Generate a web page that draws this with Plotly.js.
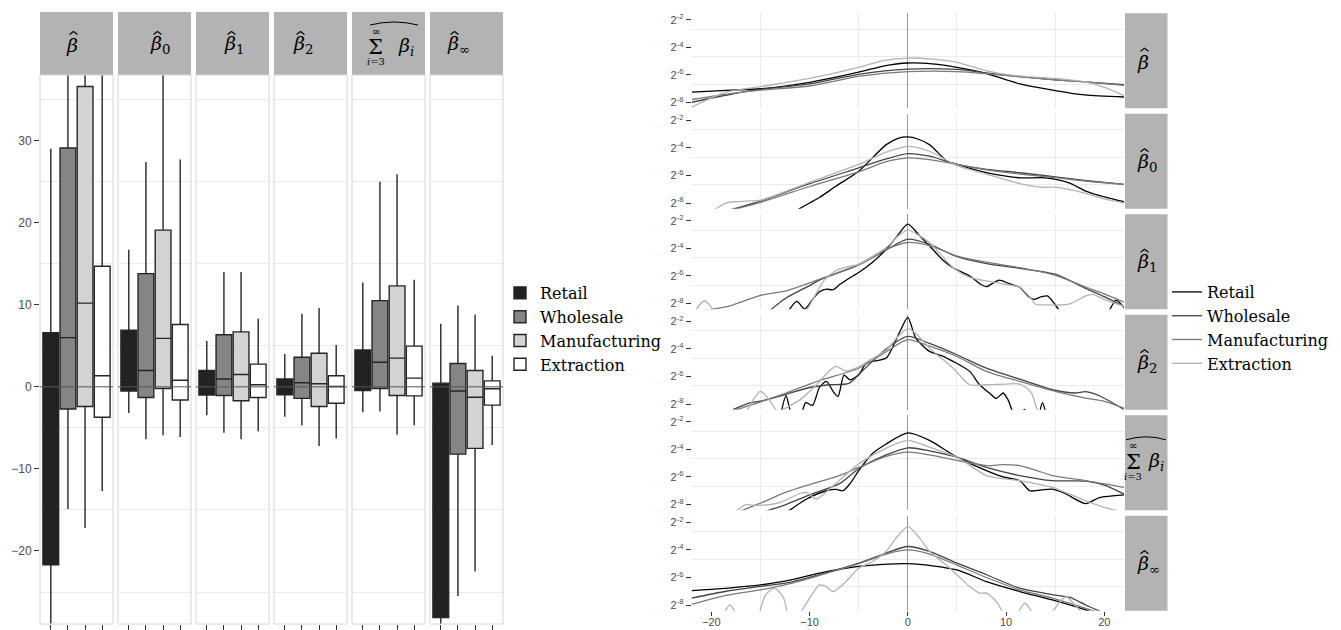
<!DOCTYPE html>
<html><head><meta charset="utf-8">
<script src="https://cdn.plot.ly/plotly-3.0.1.min.js"></script>
<style>html,body{margin:0;padding:0;background:#fff}#chart{width:1341px;height:630px}</style>
</head><body><div id="chart"></div>
<script>
// ================= DATA =================
const groups = ['Retail', 'Wholesale', 'Manufacturing', 'Extraction'];
// facet strip subscripts for beta-hat; null marks the summed term
const facetSubs = ['', '0', '1', '2', null, '∞'];

// Box statistics per facet: [β̂, β̂0, β̂1, β̂2, Σβi, β̂∞]
const retailLo  = [-40, -3.2, -3.45, -3.65, -3.1, -40];
const retailQ1  = [-21.7, -0.5, -1.0, -0.97, -0.45, -28.1];
const retailMed = [-1.0, 0.8, 0.15, 0.05, 0.85, -3.45];
const retailQ3  = [6.6, 6.9, 2.0, 0.95, 4.5, 0.45];
const retailHi  = [29.0, 16.7, 5.6, 4.0, 12.7, 7.7];

const wholesaleLo  = [-14.9, -6.4, -5.6, -4.7, -3.0, -25.5];
const wholesaleQ1  = [-2.7, -1.3, -1.05, -1.4, -0.2, -8.2];
const wholesaleMed = [6.0, 2.0, 0.95, 0.5, 3.0, -0.5];
const wholesaleQ3  = [29.1, 13.8, 6.35, 3.6, 10.5, 2.85];
const wholesaleHi  = [50, 27.4, 14.0, 8.9, 25.0, 9.9];

const manufLo  = [-17.2, -5.9, -6.4, -7.2, -5.85, -22.5];
const manufQ1  = [-2.4, -0.2, -1.7, -2.4, -1.05, -7.5];
const manufMed = [10.2, 5.9, 1.5, 0.37, 3.5, -1.26];
const manufQ3  = [36.6, 19.1, 6.7, 4.1, 12.3, 2.0];
const manufHi  = [60, 45, 14.0, 9.6, 25.9, 8.8];

const extrLo  = [-12.7, -6.1, -5.4, -6.3, -4.67, -7.1];
const extrQ1  = [-3.7, -1.6, -1.3, -2.0, -1.1, -2.23];
const extrMed = [1.35, 0.8, 0.25, 0.05, 1.06, -0.24];
const extrQ3  = [14.7, 7.6, 2.77, 1.35, 4.96, 0.73];
const extrHi  = [45, 27.7, 8.3, 5.1, 13.05, 3.8];

// Density curves: [x, log2(density)]
const dB_Retail = [[-22,-7.25],[-18,-7.1],[-15,-7.0],[-10,-6.53],[-5,-5.8],[-2.5,-5.35],[0,-5.13],[2.5,-5.2],[5,-5.45],[8,-5.9],[11.4,-6.65],[15,-7.13],[18,-7.45],[22,-7.6]];
const dB_Wholesale = [[-22,-7.98],[-18,-7.4],[-15,-7.05],[-10,-6.65],[-5,-5.95],[0,-5.57],[5,-5.6],[8,-5.85],[11,-6.1],[15,-6.35],[18,-6.5],[22,-6.7]];
const dB_Manufacturing = [[-22,-7.78],[-18,-7.35],[-15,-7.1],[-10,-6.8],[-5,-6.1],[0,-5.76],[5,-5.75],[8,-5.9],[11,-6.1],[15,-6.35],[18,-6.5],[22,-6.75]];
const dB_Extraction = [[-22,-8.34],[-18.5,-7.25],[-15,-6.85],[-10,-6.25],[-5,-5.45],[-2.5,-4.95],[0,-4.77],[2.5,-4.85],[5,-5.08],[8,-5.7],[11,-6.05],[15,-6.25],[18,-6.5],[20,-6.9],[22,-7.5]];

const dB0_Retail = [[-11.5,-8.6],[-10.5,-8.2],[-9,-7.6],[-7.3,-6.77],[-5,-5.69],[-3.6,-4.72],[-2.2,-3.76],[-1,-3.3],[0,-3.2],[1,-3.35],[2.2,-3.76],[4,-4.96],[5,-5.2],[8,-5.8],[11.4,-6.17],[14,-6.17],[16.4,-6.53],[18.1,-7.13],[20,-7.55],[22,-7.9]];
const dB0_Wholesale = [[-18.1,-8.5],[-15,-7.86],[-10,-6.6],[-5,-5.45],[-2.2,-4.8],[0,-4.41],[2.2,-4.6],[5,-5.2],[8,-5.55],[11.4,-5.8],[15,-6.1],[18,-6.35],[22,-6.65]];
const dB0_Manufacturing = [[-18.1,-8.55],[-15,-7.95],[-10,-6.8],[-5,-5.73],[-2.2,-5.0],[0,-4.72],[2.2,-4.85],[5,-5.2],[8,-5.6],[11.4,-5.9],[15,-6.15],[18,-6.4],[22,-6.65]];
const dB0_Extraction = [[-19.7,-8.5],[-18.5,-8.0],[-17.5,-7.9],[-16,-7.85],[-15,-7.8],[-10,-6.5],[-5,-5.2],[-2.2,-4.3],[0,-3.88],[2.2,-4.24],[5,-5.28],[8,-5.9],[11.4,-6.6],[13.5,-6.85],[15,-6.85],[18.1,-7.3],[20,-7.7],[22,-8.0]];

const dB1_Retail = [[-12.3,-8.7],[-11.3,-7.85],[-10.5,-8.4],[-9.7,-7.7],[-9.0,-7.15],[-8.3,-6.96],[-7.6,-7.0],[-6.9,-6.6],[-5.6,-6.0],[-5,-5.75],[-3.6,-5.0],[-2.2,-4.06],[-1.1,-3.1],[0,-2.24],[1.1,-3.0],[2.2,-3.8],[3.5,-4.8],[4.6,-5.4],[6.3,-6.0],[7.4,-6.6],[8,-6.77],[8.7,-6.5],[9.3,-6.3],[10.3,-6.55],[11.4,-6.84],[12.3,-7.5],[12.8,-7.7],[13.6,-7.5],[14.2,-7.45],[14.9,-8.0],[15.7,-8.8],[17,-10],[19.5,-10],[20.3,-8.8],[21.2,-7.75],[22,-8.3]];
const dB1_Wholesale = [[-14.2,-8.6],[-12.4,-7.6],[-10,-6.7],[-9,-6.3],[-5,-5.2],[-2.2,-4.1],[0,-3.33],[2.2,-3.7],[5,-4.6],[8,-5.1],[11.4,-5.45],[15,-5.87],[18.1,-6.9],[20,-7.5],[22,-8.2]];
const dB1_Manufacturing = [[-21.5,-8.6],[-18.1,-8.17],[-15,-7.4],[-12.4,-7.08],[-9,-6.24],[-5,-5.15],[-2.2,-4.06],[0,-3.57],[2.2,-3.8],[5,-4.55],[8,-5.0],[11.4,-5.4],[15,-5.95],[18.1,-6.8],[20,-7.3],[22,-7.9]];
const dB1_Extraction = [[-21.8,-8.7],[-20.7,-7.8],[-19.6,-8.7],[-19,-10],[-12,-10],[-10.4,-8.6],[-9.5,-7.5],[-8.5,-6.3],[-7.3,-5.6],[-6,-5.3],[-5,-5.15],[-2.2,-3.94],[-1,-3.1],[0,-2.65],[1,-3.0],[2.2,-3.57],[4.6,-5.4],[6.3,-6.1],[8,-6.36],[9.5,-6.55],[11.4,-6.84],[12.5,-7.6],[13,-8.05],[14,-8.1],[16.4,-8.05],[18.1,-7.45],[18.8,-7.33],[20,-7.7],[22,-8.2]];

const dB2_Retail = [[-13,-9],[-12.4,-7.4],[-11.8,-8.8],[-11,-9],[-10.4,-7.9],[-9.7,-8.1],[-9,-6.8],[-8.3,-6.36],[-7.5,-7.2],[-7.1,-7.45],[-6.5,-5.9],[-5.9,-6.24],[-5,-5.87],[-4.2,-5.0],[-3.6,-4.9],[-2.2,-4.66],[-1.5,-3.8],[-0.8,-2.73],[0,-1.7],[0.8,-3.2],[2.2,-4.18],[3.5,-4.5],[4.6,-4.9],[6.3,-5.63],[7.3,-6.6],[8.3,-7.2],[9,-7.6],[9.7,-7.2],[10.2,-7.7],[11,-9],[11.9,-8.4],[12.4,-9],[13.2,-9],[13.7,-7.9],[14.2,-9],[15,-10]];
const dB2_Wholesale = [[-17.8,-8.4],[-16,-7.9],[-15,-7.8],[-12.4,-7.3],[-10,-6.8],[-8,-6.6],[-6,-6.5],[-4.5,-5.5],[-2.2,-4.0],[0,-3.09],[2.2,-3.6],[5,-4.42],[8,-5.4],[11.4,-6.2],[15,-7.0],[17,-7.2],[18.1,-7.1],[19.5,-7.4],[22,-8.4]];
const dB2_Manufacturing = [[-17.8,-8.5],[-15,-7.85],[-12.4,-7.2],[-9,-6.3],[-5,-5.4],[-2.2,-4.2],[0,-3.33],[2.2,-3.8],[5,-4.55],[8,-5.63],[11.4,-6.36],[15,-7.08],[18.1,-7.57],[20,-7.8],[22,-8.3]];
const dB2_Extraction = [[-17,-10],[-16.3,-8.4],[-15,-7.08],[-14,-7.8],[-13.2,-8.6],[-12.7,-8.4],[-11,-7.7],[-9.3,-6.6],[-8,-5.6],[-7.3,-5.27],[-6.3,-5.6],[-5,-5.3],[-3.6,-4.7],[-2.2,-4.1],[-1,-3.1],[0,-2.53],[1,-3.0],[2.2,-3.94],[4.6,-5.39],[6.3,-6.6],[8,-6.6],[10,-6.55],[11.4,-6.55],[12.5,-7.1],[13.2,-8.5],[13.8,-10]];

const dBS_Retail = [[-12.4,-8.6],[-10.3,-7.6],[-8.3,-7.0],[-7.3,-6.9],[-6.6,-7.0],[-5.9,-6.5],[-5,-5.54],[-3.6,-4.3],[-2.2,-3.6],[0,-2.8],[2.2,-3.34],[5,-4.56],[8,-5.54],[9.7,-6.0],[11.4,-6.27],[12.4,-7.0],[13.5,-6.95],[14.7,-6.88],[16,-7.2],[18.1,-7.93],[19.5,-7.5],[22,-7.3]];
const dBS_Wholesale = [[-15,-8.6],[-12.4,-8.0],[-10,-7.3],[-7,-6.5],[-5,-5.4],[-2.2,-4.4],[0,-3.88],[2.2,-4.1],[5,-4.56],[8,-5.3],[11.4,-5.9],[14.7,-6.27],[18.1,-6.3],[20,-6.6],[22,-7.24]];
const dBS_Manufacturing = [[-17.5,-8.6],[-15,-7.9],[-12.4,-7.1],[-10,-6.55],[-7,-5.9],[-5,-5.3],[-2.2,-4.5],[0,-4.2],[2.2,-4.4],[5,-4.8],[8,-5.17],[9.7,-5.1],[11.4,-5.17],[13,-5.5],[14.7,-5.9],[18.1,-6.27],[22,-6.76]];
const dBS_Extraction = [[-18,-8.8],[-16.5,-8.0],[-15.8,-8.05],[-14,-8.0],[-13,-7.85],[-11,-7.2],[-10.3,-7.12],[-9.3,-7.6],[-7.6,-6.63],[-5,-5.05],[-2.2,-3.9],[0,-3.34],[2.2,-3.83],[5,-4.56],[8,-5.9],[11.4,-6.27],[14.7,-6.76],[18.1,-7.73],[20,-8.2],[22,-8.6]];

const dBI_Retail = [[-22,-6.95],[-18,-6.75],[-15,-6.54],[-12,-6.2],[-9,-5.69],[-5,-5.2],[-2.5,-5.05],[0,-5.0],[2.5,-5.15],[5,-5.45],[8,-6.3],[11.4,-7.02],[14.7,-7.63],[18.1,-8.36],[20,-8.9]];
const dBI_Wholesale = [[-22,-7.5],[-18.5,-7.0],[-15,-6.65],[-12,-6.35],[-9,-5.8],[-5,-4.96],[-2.2,-4.23],[0,-3.75],[2.2,-4.1],[5,-4.96],[8,-5.8],[11.4,-6.78],[14.7,-7.25],[16.5,-7.45],[18.1,-8.0],[20,-8.6]];
const dBI_Manufacturing = [[-22,-7.95],[-18.5,-7.3],[-15,-6.9],[-12,-6.45],[-9,-5.85],[-5,-5.0],[-2.2,-4.3],[0,-4.0],[2.2,-4.3],[5,-5.1],[8,-6.0],[11.4,-6.9],[14.7,-7.5],[18.1,-8.24],[20,-8.7]];
const dBI_Extraction = [[-19,-9],[-18.1,-8.0],[-17.2,-9],[-16,-10],[-15.3,-9],[-14.5,-7.3],[-13.6,-6.78],[-12.7,-7.4],[-12,-9],[-11,-8.6],[-10,-7.5],[-9,-6.54],[-8.3,-6.66],[-7.6,-7.02],[-6.3,-6.3],[-5,-5.33],[-3.6,-4.84],[-2.2,-4.1],[-1.2,-3.14],[0,-2.3],[1.2,-3.14],[2.2,-4.1],[3.9,-5.1],[5,-5.8],[6.3,-6.66],[7.3,-7.14],[8,-7.14],[9,-7.75],[9.7,-8.6],[10.5,-10],[11.2,-8.6],[11.9,-7.87],[12.7,-8.6],[13.5,-10],[14.6,-8.6],[16.1,-7.4],[17,-8.0],[18,-8.8],[19,-10]];

const yTickVals = [-2, -4, -6, -8];
const yTickText = ['2<sup>-2</sup>', '2<sup>-4</sup>', '2<sup>-6</sup>', '2<sup>-8</sup>'];
const xTickVals = [-20, -10, 0, 10, 20];
const leftTickVals = [-20, -10, 0, 10, 20, 30];

// ================= ASSEMBLY =================
const boxStats = [
  {lo: retailLo, q1: retailQ1, med: retailMed, q3: retailQ3, hi: retailHi},
  {lo: wholesaleLo, q1: wholesaleQ1, med: wholesaleMed, q3: wholesaleQ3, hi: wholesaleHi},
  {lo: manufLo, q1: manufQ1, med: manufMed, q3: manufQ3, hi: manufHi},
  {lo: extrLo, q1: extrQ1, med: extrMed, q3: extrQ3, hi: extrHi}
];
const dens = [
  [dB_Retail, dB_Wholesale, dB_Manufacturing, dB_Extraction],
  [dB0_Retail, dB0_Wholesale, dB0_Manufacturing, dB0_Extraction],
  [dB1_Retail, dB1_Wholesale, dB1_Manufacturing, dB1_Extraction],
  [dB2_Retail, dB2_Wholesale, dB2_Manufacturing, dB2_Extraction],
  [dBS_Retail, dBS_Wholesale, dBS_Manufacturing, dBS_Extraction],
  [dBI_Retail, dBI_Wholesale, dBI_Manufacturing, dBI_Extraction]
];

const W = 1341, H = 630;
const px = v => v / W;
const py = v => 1 - v / H;

const boxFill = ['#222222', '#858585', '#d3d3d3', '#ffffff'];
const lineCol = ['#000000', '#444444', '#7a7a7a', '#b3b3b3'];
const tickFont = {family: 'Liberation Sans, Arial, sans-serif', size: 12, color: '#4d4d4d'};
const tickFontR = {family: 'Liberation Sans, Arial, sans-serif', size: 11, color: '#4d4d4d'};
const serif = 'DejaVu Serif, serif';

const traces = [];
const layout = {
  width: W, height: H, autosize: false,
  margin: {l: 0, r: 0, t: 0, b: 0, pad: 0},
  paper_bgcolor: '#ffffff', plot_bgcolor: '#ffffff',
  showlegend: true, shapes: [], annotations: [],
  legend: {x: px(500), y: py(276), xanchor: 'left', yanchor: 'top', bgcolor: 'rgba(0,0,0,0)',
           font: {family: serif, size: 16, color: '#000'}, tracegroupgap: 0, traceorder: 'normal'},
  legend2: {x: px(1167), y: py(275), xanchor: 'left', yanchor: 'top', bgcolor: 'rgba(0,0,0,0)',
            font: {family: serif, size: 16, color: '#000'}, tracegroupgap: 0, traceorder: 'normal'}
};

function hat(cx, yApex, halfW, depth) {
  layout.shapes.push({type: 'path', xref: 'paper', yref: 'paper',
    path: `M ${px(cx - halfW)},${py(yApex + depth)} L ${px(cx)},${py(yApex)} L ${px(cx + halfW)},${py(yApex + depth)}`,
    line: {color: '#000', width: 1.1}, layer: 'above'});
}

function betaLabel(left, cy, sub) {
  const text = '<i>β</i>' + (sub ? '<sub>' + sub + '</sub>' : '');
  layout.annotations.push({xref: 'paper', yref: 'paper', x: px(left - 2), y: py(cy), text: text,
    showarrow: false, xanchor: 'left', yanchor: 'middle', font: {family: serif, size: 19, color: '#000'}});
  hat(left + 7.5, cy - 13.5, 4, 3);
}

function sumLabel(cx, cy, sigmaDx, betaDx, hatHalf) {
  const sx = cx + sigmaDx;
  layout.annotations.push({xref: 'paper', yref: 'paper', x: px(sx), y: py(cy + 1), text: 'Σ', showarrow: false,
    xanchor: 'center', yanchor: 'middle', font: {family: serif, size: 21, color: '#000'}});
  layout.annotations.push({xref: 'paper', yref: 'paper', x: px(sx), y: py(cy - 15), text: '∞', showarrow: false,
    xanchor: 'center', yanchor: 'middle', font: {family: serif, size: 10, color: '#000'}});
  layout.annotations.push({xref: 'paper', yref: 'paper', x: px(sx), y: py(cy + 16), text: '<i>i</i>=3', showarrow: false,
    xanchor: 'center', yanchor: 'middle', font: {family: serif, size: 10, color: '#000'}});
  layout.annotations.push({xref: 'paper', yref: 'paper', x: px(cx + betaDx), y: py(cy + 1), text: '<i>β<sub>i</sub></i>', showarrow: false,
    xanchor: 'center', yanchor: 'middle', font: {family: serif, size: 19, color: '#000'}});
  const x1 = px(cx - hatHalf), x2 = px(cx), x3 = px(cx + hatHalf);
  const ye = py(cy - 21), yc = py(cy - 27);
  layout.shapes.push({type: 'path', xref: 'paper', yref: 'paper', path: `M ${x1},${ye} Q ${x2},${yc} ${x3},${ye}`,
    line: {color: '#000', width: 1}, layer: 'above'});
}

// ---- left: boxplots ----
const LX0 = 40, LSTEP = 78, LW = 73, LTOP = 75, LBOT = 624, STOP = 12;
const leftLabelX = [66, 150, 224, 293, 394, 447];
for (let f = 0; f < 6; f++) {
  const xa = f === 0 ? 'x' : 'x' + (f + 1);
  const l = LX0 + f * LSTEP;
  layout[f === 0 ? 'xaxis' : 'xaxis' + (f + 1)] = {
    domain: [px(l), px(l + LW)], range: [-0.63, 3.63], anchor: 'y',
    tickvals: [0, 1, 2, 3], showticklabels: false, ticks: 'outside', ticklen: 5, tickwidth: 1, tickcolor: '#333',
    showgrid: false, zeroline: false, showline: false, fixedrange: true
  };
  layout.shapes.push({type: 'rect', xref: 'paper', yref: 'paper', x0: px(l), x1: px(l + LW), y0: py(LTOP), y1: py(STOP),
    fillcolor: '#b3b3b3', line: {width: 0}, layer: 'below'});
  layout.shapes.push({type: 'rect', xref: 'paper', yref: 'paper', x0: px(l), x1: px(l + LW), y0: py(LBOT), y1: py(LTOP),
    line: {color: '#d6d6d6', width: 1}, layer: 'above'});
  layout.shapes.push({type: 'line', xref: xa + ' domain', x0: 0, x1: 1, yref: 'y', y0: 0, y1: 0,
    line: {color: '#555555', width: 1}, layer: 'above'});
  if (facetSubs[f] === null) sumLabel(leftLabelX[f], 46, -18, 12, 24);
  else betaLabel(leftLabelX[f], 45, facetSubs[f]);

  for (let g = 0; g < 4; g++) {
    const s = boxStats[g];
    traces.push({
      type: 'box', xaxis: xa, yaxis: 'y', x: [g],
      q1: [s.q1[f]], median: [s.med[f]], q3: [s.q3[f]], lowerfence: [s.lo[f]], upperfence: [s.hi[f]],
      width: 0.92, whiskerwidth: 0, boxpoints: false,
      fillcolor: boxFill[g], line: {color: '#262626', width: 1.4},
      name: groups[g], legendgroup: 'box' + g, showlegend: f === 0, legend: 'legend', hoverinfo: 'skip'
    });
  }
}
layout.yaxis = {
  domain: [py(LBOT), py(LTOP)], range: [-28.9, 38.0], anchor: 'x',
  tickvals: leftTickVals, ticks: 'outside', ticklen: 5, tickwidth: 1, tickcolor: '#333', tickfont: tickFont,
  showgrid: false, zeroline: false, showline: false,
  minor: {tickvals: [-25, -15, -5, 5, 15, 25, 35], showgrid: true, gridcolor: '#ebebeb', gridwidth: 1, ticks: ''}
};

// ---- right: densities ----
const RX0 = 691.7, RX1 = 1124, RTOP = 13.3, RSTEP = 100.5, RH = 95;
const minorY = [];
for (let i = 0; i < yTickVals.length; i++) minorY.push(Math.log2((Math.pow(2, yTickVals[i]) + Math.pow(2, yTickVals[i] - 2)) / 2));
layout.xaxis7 = {
  domain: [px(RX0), px(RX1)], range: [-22, 22], anchor: 'y7',
  tickvals: xTickVals, ticks: 'outside', ticklen: 4, tickwidth: 1, tickcolor: '#333', tickfont: tickFontR,
  ticklabelstandoff: -3,
  showgrid: false, zeroline: true, zerolinecolor: '#9a9a9a', zerolinewidth: 1, showline: false,
  minor: {tickvals: [-15, -5, 5, 15], showgrid: true, gridcolor: '#ebebeb', gridwidth: 1, ticks: ''}
};
for (let p = 0; p < 6; p++) {
  const top = RTOP + p * RSTEP;
  const ya = 'y' + (p + 2);
  layout['yaxis' + (p + 2)] = {
    domain: [py(top + RH), py(top)], range: [-8.42, -1.52], anchor: 'x7',
    tickvals: yTickVals, ticktext: yTickText, ticks: 'outside', ticklen: 5, tickwidth: 1, tickcolor: '#333', tickfont: tickFontR,
    showgrid: false, zeroline: false, showline: false,
    minor: {tickvals: minorY, showgrid: true, gridcolor: '#ebebeb', gridwidth: 1, ticks: ''}
  };
  layout.shapes.push({type: 'rect', xref: 'paper', yref: 'paper', x0: px(1125), x1: px(1167.5), y0: py(top + RH), y1: py(top),
    fillcolor: '#b3b3b3', line: {width: 0}, layer: 'below'});
  if (facetSubs[p] === null) sumLabel(1146, top + RH / 2 - 2, -13, 10, 20);
  else betaLabel(1137, top + RH / 2 + 1, facetSubs[p]);
  for (let g = 0; g < 4; g++) {
    const d = dens[p][g];
    traces.push({
      type: 'scatter', mode: 'lines', xaxis: 'x7', yaxis: ya,
      x: d.map(v => v[0]), y: d.map(v => v[1]),
      line: {color: lineCol[g], width: 1.3, shape: 'spline', smoothing: 0.7},
      name: groups[g], legendgroup: 'dens' + g, showlegend: p === 0, legend: 'legend2', hoverinfo: 'skip'
    });
  }
}

Plotly.newPlot('chart', traces, layout, {staticPlot: true, displayModeBar: false, responsive: false});
</script>
</body></html>
